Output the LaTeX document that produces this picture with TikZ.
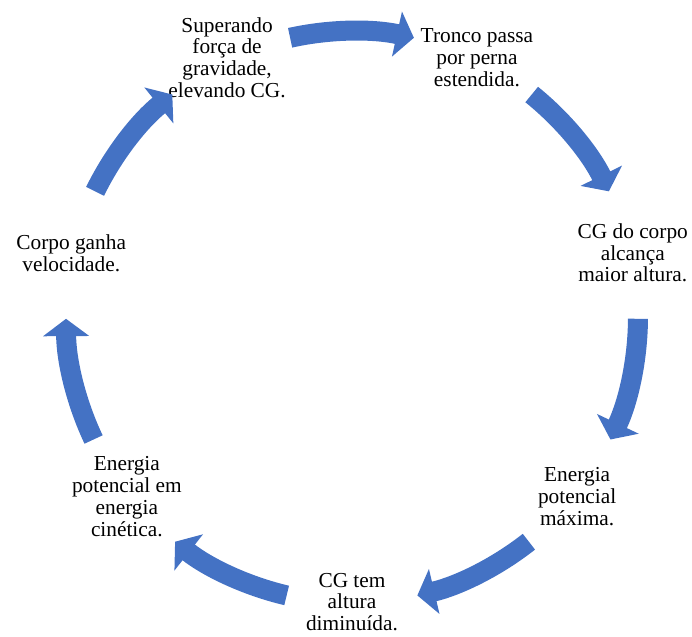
\documentclass[tikz,border=0pt]{standalone}
\usepackage{fontspec}
\setmainfont{Liberation Serif}
\usetikzlibrary{arrows.meta}

\definecolor{cycblue}{RGB}{68,114,196}

\begin{document}
\begin{tikzpicture}[
  x=0.75pt,y=0.75pt,
  font=\fontsize{16}{16.3}\selectfont,
  stage/.style={align=center,inner sep=0pt},
  flow/.style={draw=cycblue,line width=15pt,-{Triangle[width=34pt,length=13pt]},
    bend left=12.5,looseness=0.86}
]
\useasboundingbox (-352,-319) rectangle (340,317);
\node[stage] (p1) at (115.71:288) {Superando\\força de\\gravidade,\\elevando CG.};
\node[stage] (p2) at (64.29:288) {Tronco passa\\por perna\\estendida.};
\node[stage] (p3) at (12.86:288) {CG do corpo\\alcança\\maior altura.};
\node[stage] (p4) at (-38.57:288) {Energia\\potencial\\máxima.};
\node[stage] (p5) at (-90:285) {CG tem\\altura\\diminuída.};
\node[stage] (p6) at (-141.43:288) {Energia\\potencial em\\energia\\cinética.};
\node[stage] (p7) at (167.14:288) {Corpo ganha\\velocidade.};
% arrow ends on the ring
\path (102.5:286) coordinate (t1) (77.5:286) coordinate (h1)
      (51.07:286) coordinate (t2) (26.07:286) coordinate (h2)
      (-0.36:286) coordinate (t3) (-25.36:286) coordinate (h3)
      (-51.79:286) coordinate (t4) (-76.79:286) coordinate (h4)
      (-103.21:286) coordinate (t5) (-128.21:286) coordinate (h5)
      (-154.64:286) coordinate (t6) (-179.64:286) coordinate (h6)
      (153.93:286) coordinate (t7) (128.93:286) coordinate (h7);
\draw[flow] (t1) to (h1);
\draw[flow] (t2) to (h2);
\draw[flow] (t3) to (h3);
\draw[flow] (t4) to (h4);
\draw[flow] (t5) to (h5);
\draw[flow] (t6) to (h6);
\draw[flow] (t7) to (h7);
\end{tikzpicture}
\end{document}
